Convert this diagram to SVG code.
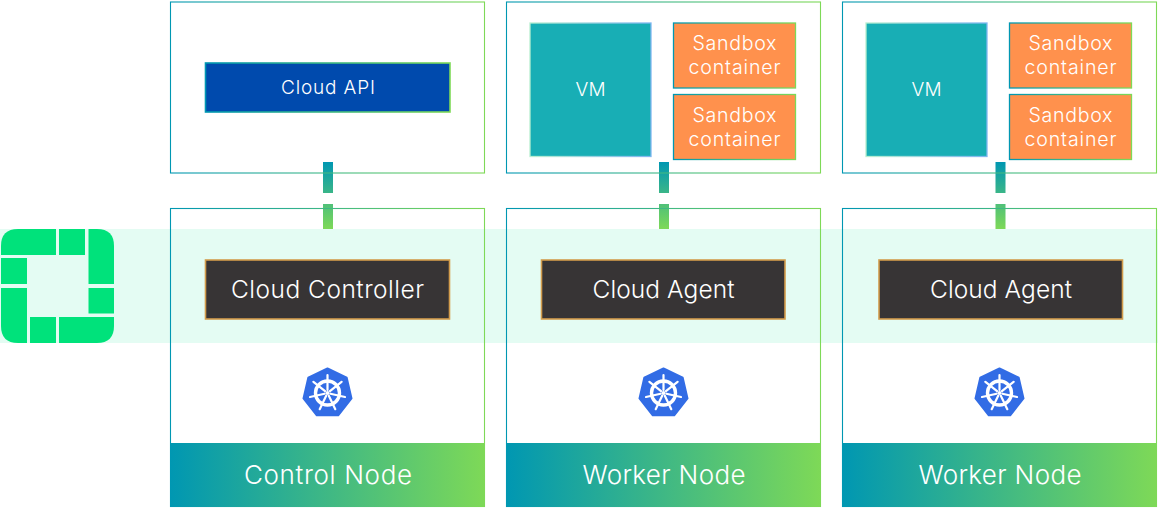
<svg xmlns="http://www.w3.org/2000/svg" xmlns:xlink="http://www.w3.org/1999/xlink" width="1158" height="509" viewBox="0 0 1158 509">
<style>
text{font-family:Inter,"Noto Sans","Liberation Sans",sans-serif;font-weight:300;fill:#fff;text-anchor:middle}
.frame{fill:none;stroke:url(#edge);stroke-width:1.1}
.t25{font-size:26px}.t24{font-size:24.500px}.t20{font-size:19.600px}.t19{font-size:19px}
.api{fill:#004aad;stroke:url(#edge);stroke-width:1.6}
.dark{fill:#373435;stroke:#d29c4c;stroke-width:1.600}
.vm{fill:#18aeb5;stroke:url(#vmedge);stroke-width:1.3}
.box{fill:#ff914d;stroke:url(#edge);stroke-width:1.3}
.foot{fill:url(#edge)}
.logo{fill:#00e27b}
</style>
<defs>
<linearGradient id="edge" x1="0" y1="0" x2="1" y2="0"><stop offset="0" stop-color="#0097b2"/><stop offset="1" stop-color="#7ed957"/></linearGradient>
<linearGradient id="vmedge" x1="0" y1="0" x2="1" y2="0"><stop offset="0" stop-color="#b8efd0"/><stop offset="1" stop-color="#7fb6f0"/></linearGradient>
<linearGradient id="link" gradientUnits="userSpaceOnUse" x1="0" y1="162" x2="0" y2="229"><stop offset="0" stop-color="#0097b2"/><stop offset="1" stop-color="#7ed957"/></linearGradient>
<g id="helm">
<path d="M0-24.500 L19.200-15.300 L24 5.500 L10.700 22.300 L-10.700 22.300 L-24 5.500 L-19.200-15.300Z" fill="#326ce5" stroke="#326ce5" stroke-width="2" stroke-linejoin="round"/>
<g fill="none" stroke="#fff">
<circle r="12" stroke-width="3.400"/>
<path d="M0-18V-3M14.100-11.200L2.400-1.900M17.500 4L2.900 .7M7.800 16.200L1.300 2.700M-7.800 16.200L-1.300 2.700M-17.500 4L-2.900 .7M-14.100-11.200L-2.400-1.900" stroke-width="2.200" stroke-linecap="round"/>
</g>
<circle r="2" fill="#fff"/>
</g>
</defs>

<rect id="band" x="0" y="229" width="1158" height="114" fill="#e4fcf3"/>

<g id="connectors" fill="url(#link)">
<rect x="323" y="162" width="10" height="31"/><rect x="323" y="204" width="10" height="25"/>
<rect x="659" y="162" width="10" height="31"/><rect x="659" y="204" width="10" height="25"/>
<rect x="995.500" y="162" width="10" height="31"/><rect x="995.500" y="204" width="10" height="25"/>
</g>

<g id="logo" class="logo">
<path d="M1 255V246Q1 229 18 229H56V255Z"/>
<rect x="59" y="229" width="26" height="26"/>
<path d="M88.500 229H97Q114 229 114 246V284H88.500Z"/>
<rect x="1" y="258" width="26" height="26"/>
<path d="M1 288H27V343H18Q1 343 1 326Z"/>
<rect x="30" y="317" width="26" height="26"/>
<path d="M59 317H114V326Q114 343 97 343H59Z"/>
<rect x="88.500" y="288" width="25.500" height="25.500"/>
</g>

<g id="cloud-api-host">
<rect class="frame" x="170.500" y="2" width="314" height="171"/>
<rect class="api" x="205.500" y="63" width="244.500" height="49"/>
<text class="t19" x="328" y="94" textLength="94">Cloud API</text>
</g>
<g id="vm-host-1">
<rect class="frame" x="506.500" y="2" width="314" height="171"/>
<rect class="vm" x="530" y="23" width="121" height="133.500"/>
<text class="t19" x="590.500" y="96" textLength="30">VM</text>
<rect class="box" x="673.500" y="23" width="122" height="65"/>
<text class="t20" x="734.500" y="50" textLength="84">Sandbox</text>
<text class="t20" x="734.500" y="74" textLength="92">container</text>
<rect class="box" x="673.500" y="94.500" width="122" height="65"/>
<text class="t20" x="734.500" y="122" textLength="84">Sandbox</text>
<text class="t20" x="734.500" y="146" textLength="92">container</text>
</g>
<g id="vm-host-2">
<rect class="frame" x="842.500" y="2" width="314" height="171"/>
<rect class="vm" x="866" y="23" width="121" height="133.500"/>
<text class="t19" x="926.500" y="96" textLength="30">VM</text>
<rect class="box" x="1009.500" y="23" width="122" height="65"/>
<text class="t20" x="1070.500" y="50" textLength="84">Sandbox</text>
<text class="t20" x="1070.500" y="74" textLength="92">container</text>
<rect class="box" x="1009.500" y="94.500" width="122" height="65"/>
<text class="t20" x="1070.500" y="122" textLength="84">Sandbox</text>
<text class="t20" x="1070.500" y="146" textLength="92">container</text>
</g>

<g id="control-node">
<rect class="frame" x="170.500" y="208.500" width="314" height="298"/>
<rect class="dark" x="205.500" y="260" width="244" height="59"/>
<text class="t24" x="327.500" y="298" textLength="193">Cloud Controller</text>
<use xlink:href="#helm" href="#helm" x="327.500" y="393"/>
<rect class="foot" x="170" y="443" width="315" height="64"/>
<text class="t25" x="328" y="484" textLength="168">Control Node</text>
</g>
<g id="worker-node-1">
<rect class="frame" x="506.500" y="208.500" width="314" height="298"/>
<rect class="dark" x="541.500" y="260" width="243.500" height="59"/>
<text class="t24" x="663.500" y="298" textLength="142">Cloud Agent</text>
<use xlink:href="#helm" href="#helm" x="663.500" y="393"/>
<rect class="foot" x="506" y="443" width="315" height="64"/>
<text class="t25" x="664" y="484" textLength="163">Worker Node</text>
</g>
<g id="worker-node-2">
<rect class="frame" x="842.500" y="208.500" width="314" height="298"/>
<rect class="dark" x="879" y="260" width="243.500" height="59"/>
<text class="t24" x="1001" y="298" textLength="142">Cloud Agent</text>
<use xlink:href="#helm" href="#helm" x="999.500" y="393"/>
<rect class="foot" x="842" y="443" width="315" height="64"/>
<text class="t25" x="1000" y="484" textLength="163">Worker Node</text>
</g>
</svg>
